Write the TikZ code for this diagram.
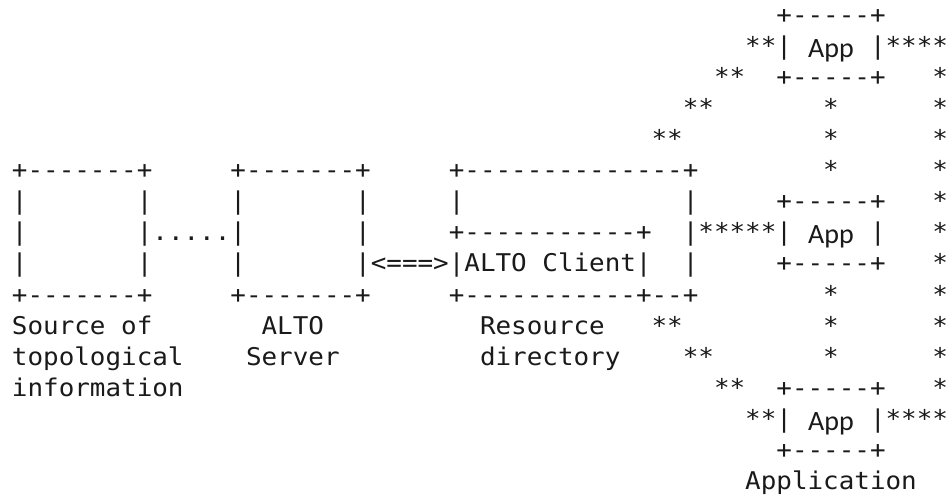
\documentclass[tikz,border=0pt]{standalone}
\usepackage{fontspec}
\setmonofont{DejaVu Sans Mono}[FakeStretch=1.062]
\newfontfamily\appfont{Carlito}
\definecolor{ink}{HTML}{1A1A1A}
\tikzset{
  txt/.style={anchor=base west, inner sep=0pt, outer sep=0pt,
    font=\ttfamily\fontsize{24.4}{31.1}\selectfont, text=ink},
  appt/.style={anchor=base, inner sep=0pt, outer sep=0pt,
    font=\appfont\fontsize{28}{30}\selectfont, text=ink}
}
\newcommand\asciiseg[3]{\node[txt] (r#1c#2) at ({12+#2*15.6},{471.8-#1*31.1}) {#3};}
\newcommand\appbox[2]{\node[appt] (#1) at (831,{471.8-#2*31.1-3}) {App};}
\begin{document}
\begin{tikzpicture}[x=1pt,y=1pt]
\useasboundingbox[fill=white] (0,0) rectangle (949,495);
% row 0
\asciiseg{0}{49}{+-----+}
% row 1
\asciiseg{1}{47}{**|}\asciiseg{1}{55}{|****}
\appbox{app1}{1}
% row 2
\asciiseg{2}{45}{**}\asciiseg{2}{49}{+-----+}\asciiseg{2}{59}{*}
% row 3
\asciiseg{3}{43}{**}\asciiseg{3}{52}{*}\asciiseg{3}{59}{*}
% row 4
\asciiseg{4}{41}{**}\asciiseg{4}{52}{*}\asciiseg{4}{59}{*}
% row 5
\asciiseg{5}{0}{+-------+}\asciiseg{5}{14}{+-------+}\asciiseg{5}{28}{+--------------+}
\asciiseg{5}{52}{*}\asciiseg{5}{59}{*}
% row 6
\asciiseg{6}{0}{|}\asciiseg{6}{8}{|}\asciiseg{6}{14}{|}\asciiseg{6}{22}{|}
\asciiseg{6}{28}{|}\asciiseg{6}{43}{|}\asciiseg{6}{49}{+-----+}\asciiseg{6}{59}{*}
% row 7
\asciiseg{7}{0}{|}\asciiseg{7}{8}{|.....|}\asciiseg{7}{22}{|}
\asciiseg{7}{28}{+-----------+}\asciiseg{7}{43}{|*****|}\asciiseg{7}{55}{|}\asciiseg{7}{59}{*}
\appbox{app2}{7}
% row 8
\asciiseg{8}{0}{|}\asciiseg{8}{8}{|}\asciiseg{8}{14}{|}
\asciiseg{8}{22}{|<===>|ALTO Client|}\asciiseg{8}{43}{|}
\asciiseg{8}{49}{+-----+}\asciiseg{8}{59}{*}
% row 9
\asciiseg{9}{0}{+-------+}\asciiseg{9}{14}{+-------+}\asciiseg{9}{28}{+-----------+--+}
\asciiseg{9}{52}{*}\asciiseg{9}{59}{*}
% row 10
\asciiseg{10}{0}{Source of}\asciiseg{10}{16}{ALTO}\asciiseg{10}{30}{Resource}
\asciiseg{10}{41}{**}\asciiseg{10}{52}{*}\asciiseg{10}{59}{*}
% row 11
\asciiseg{11}{0}{topological}\asciiseg{11}{15}{Server}\asciiseg{11}{30}{directory}
\asciiseg{11}{43}{**}\asciiseg{11}{52}{*}\asciiseg{11}{59}{*}
% row 12
\asciiseg{12}{0}{information}\asciiseg{12}{45}{**}\asciiseg{12}{49}{+-----+}\asciiseg{12}{59}{*}
% row 13
\asciiseg{13}{47}{**|}\asciiseg{13}{55}{|****}
\appbox{app3}{13}
% row 14
\asciiseg{14}{49}{+-----+}
% row 15
\asciiseg{15}{47}{Application}
\end{tikzpicture}
\end{document}
